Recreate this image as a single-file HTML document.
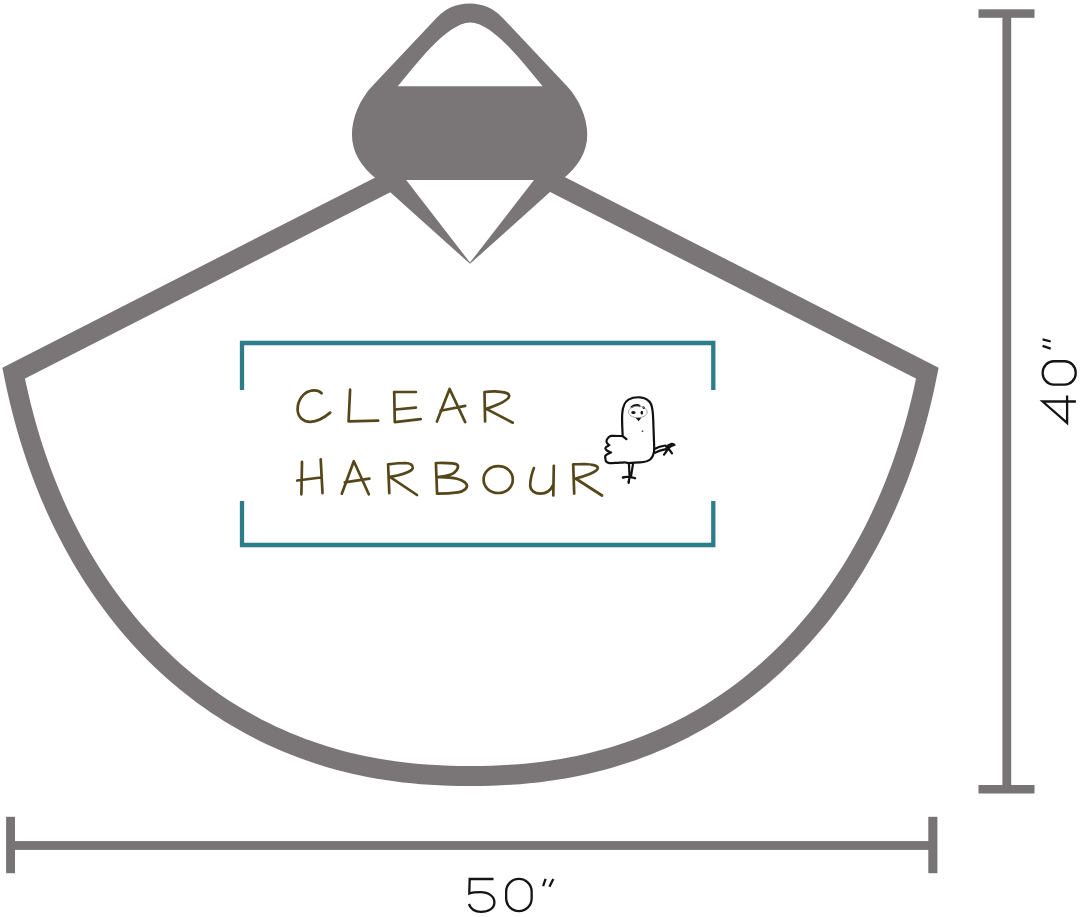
<!DOCTYPE html>
<html><head><meta charset="utf-8"><style>
html,body{margin:0;padding:0;background:#fff;}
body{width:1080px;height:917px;overflow:hidden;font-family:"Liberation Sans",sans-serif;}
svg{display:block;}
</style></head><body>
<svg width="1080" height="917" viewBox="0 0 1080 917">
<rect width="1080" height="917" fill="#fff"/>
<g fill="none" stroke="#7a7677" stroke-width="20" stroke-linejoin="miter" stroke-miterlimit="10">
<path d="M400,176.10 L13.68,373.12 15.58,382.45 L17.60,391.68 L19.72,400.82 L21.97,409.87 L24.32,418.83 L26.79,427.70 L29.37,436.47 L32.06,445.16 L34.87,453.75 L37.78,462.26 L40.80,470.67 L43.94,478.99 L47.18,487.22 L50.53,495.35 L53.99,503.39 L57.55,511.33 L61.22,519.17 L65.00,526.92 L68.88,534.57 L72.87,542.12 L76.95,549.57 L81.15,556.92 L85.44,564.16 L89.83,571.30 L94.33,578.34 L98.92,585.27 L103.61,592.09 L108.40,598.80 L113.29,605.41 L118.27,611.91 L123.35,618.29 L128.52,624.56 L133.78,630.72 L139.14,636.76 L144.59,642.69 L150.13,648.50 L155.76,654.19 L161.48,659.76 L167.28,665.22 L173.17,670.55 L179.15,675.76 L185.22,680.85 L191.36,685.81 L197.60,690.65 L203.91,695.37 L210.31,699.95 L216.78,704.42 L223.34,708.75 L229.98,712.95 L236.69,717.02 L243.48,720.97 L250.36,724.78 L257.30,728.46 L264.32,732.01 L271.42,735.42 L278.60,738.70 L285.85,741.84 L293.17,744.85 L300.57,747.72 L308.04,750.46 L315.59,753.06 L323.22,755.52 L330.92,757.85 L338.70,760.03 L346.56,762.08 L354.50,763.98 L362.53,765.75 L370.64,767.38 L378.85,768.87 L387.15,770.21 L395.56,771.42 L404.08,772.48 L412.73,773.40 L421.53,774.18 L430.50,774.82 L439.70,775.32 L449.18,775.68 L459.15,775.89 L470.50,775.96 L481.85,775.89 L491.82,775.68 L501.30,775.32 L510.50,774.82 L519.47,774.18 L528.27,773.40 L536.92,772.48 L545.44,771.42 L553.85,770.21 L562.15,768.87 L570.36,767.38 L578.47,765.75 L586.50,763.98 L594.44,762.08 L602.30,760.03 L610.08,757.85 L617.78,755.52 L625.41,753.06 L632.96,750.46 L640.43,747.72 L647.83,744.85 L655.15,741.84 L662.40,738.70 L669.58,735.42 L676.68,732.01 L683.70,728.46 L690.64,724.78 L697.52,720.97 L704.31,717.02 L711.02,712.95 L717.66,708.75 L724.22,704.42 L730.69,699.95 L737.09,695.37 L743.40,690.65 L749.64,685.81 L755.78,680.85 L761.85,675.76 L767.83,670.55 L773.72,665.22 L779.52,659.76 L785.24,654.19 L790.87,648.50 L796.41,642.69 L801.86,636.76 L807.22,630.72 L812.48,624.56 L817.65,618.29 L822.73,611.91 L827.71,605.41 L832.60,598.80 L837.39,592.09 L842.08,585.27 L846.67,578.34 L851.17,571.30 L855.56,564.16 L859.85,556.92 L864.05,549.57 L868.13,542.12 L872.12,534.57 L876.00,526.92 L879.78,519.17 L883.45,511.33 L887.01,503.39 L890.47,495.35 L893.82,487.22 L897.06,478.99 L900.20,470.67 L903.22,462.26 L906.13,453.75 L908.94,445.16 L911.63,436.47 L914.21,427.70 L916.68,418.83 L919.03,409.87 L921.28,400.82 L923.40,391.68 L925.42,382.45 L927.32,373.12 L541.00,176.10"/>
</g>
<g fill="#7a7677">
<path d="M469.6,3.5 A45.3,45.3 0 0 1 502.5,17.7 L567.1,86.2 C579.2,99 587.25,118.2 587.25,134 A117.65,72.9 0 0 1 561.5,180 L377.7,180 A117.65,72.9 0 0 1 351.95,134 C351.95,118.2 360,99 372.1,86.2 L436.7,17.7 A45.3,45.3 0 0 1 469.6,3.5 Z"/>
<path d="M375.5,179 L470,263.8 L564.5,179 L534.6,179.2 L470,262.6 L405.6,179.2 Z"/>
</g>
<path d="M470.2,22.4 C494.1,22.4 527.5,68.6 542.7,86.2 L397.7,86.2 C412.9,68.6 446.3,22.4 470.2,22.4 Z" fill="#fff"/>
<path d="M242,390 L242,343 L713.3,343 L713.3,390 M242,501 L242,545 L713.3,545 L713.3,501" fill="none" stroke="#2d7c89" stroke-width="4.3" stroke-linejoin="miter"/>
<g fill="none" stroke="#55471a" stroke-width="2.7" stroke-linecap="round" stroke-linejoin="round">
<path d="M321.6,393.2 C319,390.5 316,390.2 313.4,390.3 C303,391 297.5,401 297.6,409.5 C297.8,417 303,422 310.4,421.8 C318,421.6 325,417 330.2,412.6"/>
<path d="M350.1,389.7 L348.6,421.3 L378.1,420.7"/>
<path d="M415.9,392 L394.2,392 L394.8,422.1 L420.7,419.1 M395.4,409.5 L415.9,407.7"/>
<path d="M436.9,421.5 L449.6,389 L465.2,422.1 M440.6,410.7 L465.2,405.9"/>
<path d="M485.1,421.5 L484.5,392 C488,391.6 491,391.3 494.7,391.4 C503,391.6 509.5,393 509.2,396 C508.8,401 495,406 486.3,408.9 L512.8,422.7"/>
<path d="M302,461.9 L301.4,494.3 M320.7,459.4 L322.5,493.1 M297.2,480.5 L320.7,477.5"/>
<path d="M341.8,493.7 L353.8,461.2 L368.8,494.3 M344.8,482.3 L369.4,478.7"/>
<path d="M389.3,493.1 L388.1,464.3 C395,463.5 401,463 405.6,463 C410,463.2 413,465 412.8,467.9 C412,472 398,475.5 389.9,476.9 L417,495"/>
<path d="M435.9,463 L437.1,493.7 M435.9,463 C445,463 455,462.5 457.5,465 C459.5,468 455,473 450.9,474.5 C447,476 441,476.9 437.5,477.2 C447,477 462,478 466.5,484.2 C468.5,488 463.5,491.5 458,492.3 C450,493.5 443,493.7 437.1,493.7"/>
<path d="M498.2,466.2 C506.5,466.2 512.8,472 512.8,479.6 C512.8,487.3 506.5,493 498.2,493 C490,493 483.6,487.3 483.6,479.6 C483.6,472 490,466.2 498.2,466.2 Z"/>
<path d="M533.9,468.1 C532,473 530.2,479 530.2,485.7 C530.5,491 535,493.6 540.4,493.6 C547,493.6 551,489.5 553.3,484.8 M553.8,465.8 L553.3,495.5"/>
<path d="M574.2,493.6 L573.2,464.4 C577,464.2 581,464 584.8,464 C591,464.2 598,465.5 597.8,468.1 C597.5,472 584,476.5 575.6,478.5 L602,495.5"/>
</g>
<g fill="none" stroke="#111" stroke-width="2.2" stroke-linecap="round" stroke-linejoin="round">
<path d="M626.4,439.2 L622.7,436.1 C622.3,428 621.8,420 622.2,414 C622.6,407 624.5,402 628.5,399.6 C632,397.6 636,397.1 640,397.3 C645,397.7 649,400 651,404 C652.6,408 653,413 653.2,419.5 C653.5,428 653.9,438 654.2,447 C654.4,452.5 653.2,456.5 650.5,459.3 C648,461.6 644,462.2 640,462.4 C636,462.6 632,462.9 628.6,463.2 C626,462.8 625,462.2 624.2,462.3 C622,462.6 620,462.6 617.7,462.8 C614.5,463 611.5,463.3 609.4,463.2 C606.8,462.6 605.4,461.3 605.6,459.7 C605.4,458.3 605,457.2 605.2,456.2 C605.6,454.6 609,453.6 611.1,452.5 C608.5,451.5 605.6,450.4 605.4,448.3 C605.4,446.6 608.6,446 609.4,445.1 C607.8,444 606.4,443.2 606.5,441.8 C606.5,440.2 606.8,439.3 607.4,438.7 C608.4,437 609.8,436.2 611.1,435.9 C615,435.8 619,436 622.7,436.1"/>
<path d="M631.6,407 C633.3,405.6 635.5,405.1 637.2,405.2 C638.2,405.3 639,405.6 639.5,406"/>
<path d="M643.3,407.3 L644,407.8"/>
<path d="M628.9,463.3 L629.6,477 M633.1,463.3 L630.9,477"/>
<path d="M622.8,477.6 C625,476.5 628,476.8 630,477.2 C632,477.5 634,477.6 635.1,478.2 M629.5,477 L628.6,482.8"/>
<path d="M654.5,449 C657.5,447.2 661,446 665.5,445.5 M655,452.8 C658.5,451 662,450 666,449.2 M668.5,448.5 L672,453.4 M668.5,448.5 L664,454.6"/>
</g>
<g fill="#111"><circle cx="642.5" cy="431.2" r="0.9" fill="#555"/><ellipse cx="633.4" cy="412.4" rx="2.1" ry="1.5"/><ellipse cx="641.8" cy="412.7" rx="1.3" ry="1.9"/><path d="M635.1,417.3 C637,418.2 639.5,418.2 641.6,417.3 L638.7,421.3 Z"/><path d="M622.8,476.3 C624,476 625,477 624.5,478.6 C623.5,479 622.3,478.5 622.8,476.3 Z M634,477 C635.5,476.8 636,478.5 635,479.2 C634,479.4 633.5,478 634,477 Z M627.5,481 C628.5,480.5 630,481 629.6,483.2 C628.6,483.6 627.4,482.8 627.5,481 Z"/><path d="M665,446.5 C667,445 669,443.5 671.4,442.8 C673.5,442.6 675.5,443.8 675.8,445.4 C673,446.2 670.5,447.5 668.5,449.5 C667,449.5 665.5,448.5 665,446.5 Z"/><path d="M628.5,412 C628.5,408.5 632.5,406.2 637.8,406.2 C643,406.2 647.2,408.8 647.2,412 C647.2,415.3 643,417.6 637.8,417.6 C632.5,417.6 628.5,415.3 628.5,412 Z" fill="none" stroke="#9a9a9a" stroke-width="0.9"/></g>
<g fill="#767475">
<rect x="978.5" y="9.3" width="56" height="8.5"/>
<rect x="1002.4" y="13" width="8.8" height="776"/>
<rect x="978.5" y="785" width="56" height="8.5"/>
<rect x="6.1" y="816.8" width="8.9" height="56.4"/>
<rect x="10" y="841.1" width="924" height="8.8"/>
<rect x="928.3" y="816.8" width="9.1" height="56.4"/>
</g>
<g fill="none" stroke="#141414" stroke-width="2.3" stroke-linecap="butt" stroke-linejoin="miter">
<path d="M493.5,879 L469.7,879 L469.3,893.5 C472.5,892.4 476.5,892.2 480.5,892.2 C489,892.2 494.4,896.5 494.4,902.2 C494.4,908.3 488.5,911.9 481,911.9 C475.5,911.9 471,909.5 468.9,904"/><path d="M506.15,891.50 C506.15,884.57 511.86,878.95 518.90,878.95 C525.94,878.95 531.65,884.57 531.65,891.50 L531.65,898.50 C531.65,905.43 525.94,911.05 518.90,911.05 C511.86,911.05 506.15,905.43 506.15,898.50 Z"/><path d="M545.6,878.9 L543.1,886.1 M553.3,878.9 L549.4,886.7"/>
<g transform="matrix(0,-1,1,0,1041.5,424)">
<path d="M22.5,34.4 L22.5,1.1 L1.1,25.6 L28.5,25.6"/><path d="M39.45,12.25 C39.45,6.12 44.67,1.15 51.10,1.15 C57.53,1.15 62.75,6.12 62.75,12.25 L62.75,23.15 C62.75,29.28 57.53,34.25 51.10,34.25 C44.67,34.25 39.45,29.28 39.45,23.15 Z"/><path d="M84.7,1.1 L82.5,9.2 M78.2,1.1 L75.4,9.2"/>
</g>
</g>
</svg>
</body></html>
